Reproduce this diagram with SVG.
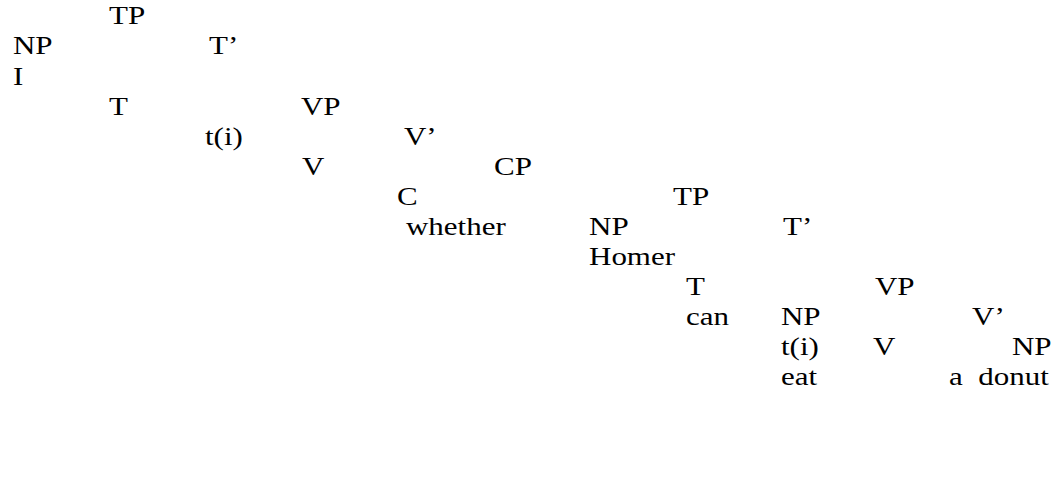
<svg xmlns="http://www.w3.org/2000/svg" width="1060" height="477" viewBox="0 0 1060 477" font-family="'Liberation Serif', 'Times New Roman', Times, serif" font-size="31">
  <rect width="1060" height="477" fill="#fff"/>
  <!-- labels are laid out on a 36.8px row grid, then the whole tree is compressed vertically -->
  <g transform="scale(1,0.816)" fill="#000">
    <!-- matrix clause -->
    <g id="tp1"><text x="109" y="30">TP</text></g>
    <g id="np1"><text x="13" y="66.8">NP</text></g>
    <g id="tbar1"><text x="209" y="66.8">T’</text></g>
    <g id="i"><text x="13" y="103.6">I</text></g>
    <g id="t1"><text x="109" y="140.4">T</text></g>
    <g id="vp1"><text x="301" y="140.4">VP</text></g>
    <g id="trace1"><text x="205" y="177.2">t(i)</text></g>
    <g id="vbar1"><text x="404" y="177.2">V’</text></g>
    <g id="v1"><text x="302" y="214">V</text></g>
    <g id="cp"><text x="494" y="214">CP</text></g>
    <!-- embedded clause -->
    <g id="c"><text x="397" y="250.8">C</text></g>
    <g id="tp2"><text x="673" y="250.8">TP</text></g>
    <g id="whether"><text x="406" y="287.6">whether</text></g>
    <g id="np2"><text x="589" y="287.6">NP</text></g>
    <g id="tbar2"><text x="783" y="287.6">T’</text></g>
    <g id="homer"><text x="589" y="324.4">Homer</text></g>
    <g id="t2"><text x="686" y="361.2">T</text></g>
    <g id="vp2"><text x="875" y="361.2">VP</text></g>
    <g id="can"><text x="686" y="398">can</text></g>
    <g id="np3"><text x="781" y="398">NP</text></g>
    <g id="vbar2"><text x="972" y="398">V’</text></g>
    <g id="trace2"><text x="781" y="434.8">t(i)</text></g>
    <g id="v2"><text x="873" y="434.8">V</text></g>
    <g id="np4"><text x="1012" y="434.8">NP</text></g>
    <g id="eat"><text x="781" y="471.6">eat</text></g>
    <g id="donut"><text x="949" y="471.6" xml:space="preserve">a  donut</text></g>
  </g>
</svg>
